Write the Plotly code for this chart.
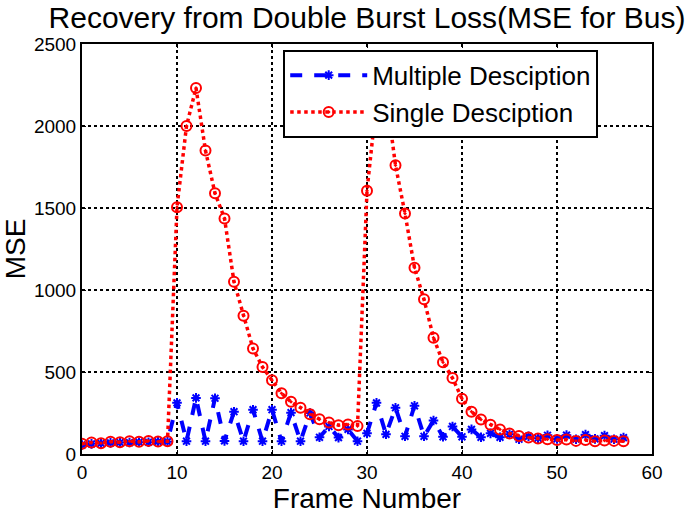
import plotly.graph_objects as go

frames = list(range(58))

multiple_desc = [55, 62, 65, 68, 70, 70, 72, 72, 75, 75,
                 312, 78, 342, 78, 340, 80, 258, 78, 270, 78,
                 270, 78, 252, 78, 250, 102, 168, 100, 150, 78,
                 126, 312, 120, 282, 108, 294, 108, 204, 105, 168,
                 105, 150, 102, 126, 102, 120, 90, 108, 96, 114,
                 92, 115, 90, 118, 92, 112, 90, 100]

single_desc = [62, 70, 66, 75, 72, 78, 74, 80, 76, 78,
               1505, 2000, 2232, 1850, 1590, 1436, 1050, 843, 643, 530,
               450, 370, 318, 282, 242, 212, 192, 176, 180, 170,
               1605, 2150, 2200, 1760, 1466, 1136, 943, 709, 559, 463,
               337, 258, 210, 178, 150, 125, 110, 100, 95, 90,
               85, 88, 80, 85, 78, 82, 80, 78]

x_ticks = [0, 10, 20, 30, 40, 50, 60]
y_ticks = [0, 500, 1000, 1500, 2000, 2500]

FONT = "Liberation Sans, Arial, sans-serif"

fig = go.Figure()
fig.add_trace(go.Scatter(
    x=frames, y=multiple_desc, mode="lines+markers", name="Multiple Desciption",
    line=dict(color="#0000ff", width=4, dash="dash"),
    marker=dict(symbol="asterisk-open", size=8, color="#0000ff",
                line=dict(color="#0000ff", width=2)),
))
fig.add_trace(go.Scatter(
    x=frames, y=single_desc, mode="lines+markers", name="Single Desciption",
    line=dict(color="#ff0000", width=3.5, dash="dot"),
    marker=dict(symbol="circle-open-dot", size=10, color="#ff0000",
                line=dict(color="#ff0000", width=2)),
))

axis_common = dict(
    showline=True, linecolor="black", linewidth=2, mirror="ticks",
    ticks="inside", ticklen=4, tickcolor="black",
    showgrid=True, gridcolor="black", gridwidth=1.5, griddash="dot",
    zeroline=False, tickfont=dict(family=FONT, size=19, color="black"),
)

fig.update_xaxes(range=[0, 60], tickvals=x_ticks,
                 title=dict(text="Frame Number", font=dict(family=FONT, size=28, color="black"), standoff=0),
                 **axis_common)
fig.update_yaxes(range=[0, 2500], tickvals=y_ticks,
                 title=dict(text="MSE", font=dict(family=FONT, size=28, color="black"), standoff=0),
                 **axis_common)

fig.update_layout(
    width=686, height=514,
    margin=dict(l=82, r=34, t=44, b=54),
    paper_bgcolor="white", plot_bgcolor="white",
    title=dict(text="Recovery from Double Burst Loss(MSE for Bus)",
               font=dict(family=FONT, size=30, color="black"),
               x=0.535, xanchor="center", y=0.965, yanchor="middle"),
    legend=dict(x=0.353, y=0.986, xanchor="left", yanchor="top",
                bgcolor="white", bordercolor="black", borderwidth=2,
                font=dict(family=FONT, size=26, color="black"),
                itemwidth=77, tracegroupgap=0),
    showlegend=True,
)

fig.write_html("out.html")
